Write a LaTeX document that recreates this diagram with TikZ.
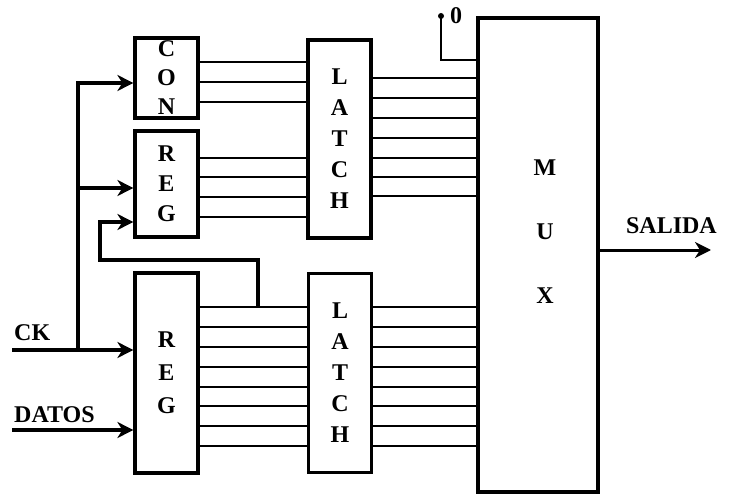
\documentclass[tikz,border=0pt]{standalone}
\usepackage{fontspec}
\setmainfont{Liberation Serif}
\usetikzlibrary{arrows.meta,positioning}

\begin{document}
\begin{tikzpicture}[
    x=1pt, y=-1pt,
    block/.style={draw, line width=3.2pt, minimum width=63pt, inner sep=0pt, align=center,
        font=\bfseries\fontsize{24}{31}\selectfont},
    bus/.style={line width=2.9pt},
    clk/.style={line width=4.2pt},
    inarrow/.style={clk, -{Stealth[length=16pt,width=16pt,inset=5pt]}},
    lbl/.style={font=\bfseries\fontsize{24}{26}\selectfont, inner sep=0pt}
]
\useasboundingbox (0,0) rectangle (751,494);

% Counter and registers
\node[block, minimum height=80pt, font=\bfseries\fontsize{24}{29}\selectfont] (con) at (166.5,78) {C\\O\\N};
\node[block, minimum height=106pt, font=\bfseries\fontsize{24}{30}\selectfont] (regA) at (166.5,184) {R\\E\\G};
\node[block, minimum height=200pt, font=\bfseries\fontsize{24}{33}\selectfont] (regB) at (166.5,373) {R\\E\\G};

% Latches
\node[block, minimum height=198pt] (latchA) at (339.5,139) {L\\A\\T\\C\\H};
\node[block, minimum height=199pt] (latchB) at (340,373) {L\\A\\T\\C\\H};

% Multiplexer
\node[block, minimum width=120pt, minimum height=474pt] (mux) at (538,255) {};
\node[lbl, align=center, font=\bfseries\fontsize{24}{64}\selectfont] (muxtext) at (545,232) {M\\U\\X};

% Inputs and outputs
\coordinate (ck) at (12,350);
\coordinate (datos) at (12,430);
\coordinate (tap) at (78,350);
\coordinate (fb) at (258,307);
\coordinate (zero) at (441,16);
\coordinate (salida) at (711,250);

\node[lbl, anchor=south west, above right=9pt and 2pt of ck] (cklabel) {CK};
\node[lbl, anchor=south west, above right=7pt and 2pt of datos] (datoslabel) {DATOS};
\node[lbl, anchor=south, above left=16pt and -6pt of salida] (salidalabel) {SALIDA};
\node[lbl, anchor=west, right=9pt of zero] (zerolabel) {0};

% Data buses
\foreach \y in {62,82,102}
    \draw[bus] (con.east |- 0,\y) -- (latchA.west |- 0,\y);
\foreach \y in {158,177,197,217}
    \draw[bus] (regA.east |- 0,\y) -- (latchA.west |- 0,\y);
\foreach \y in {78,98,118,138,158,177,196}
    \draw[bus] (latchA.east |- 0,\y) -- (mux.west |- 0,\y);
\foreach \y in {307,327,347,367,387,406,426,446} {
    \draw[bus] (regB.east |- 0,\y) -- (latchB.west |- 0,\y);
    \draw[bus] (latchB.east |- 0,\y) -- (mux.west |- 0,\y);
}

% Constant zero input
\fill (zero) circle (3pt);
\draw[bus] (zero) |- (mux.west |- 0,60);

% Clock and data inputs
\draw[inarrow] (ck) -- (regB.west |- ck);
\draw[inarrow] (datos) -- (regB.west |- datos);
\draw[inarrow] (tap) |- (con.west |- 0,83);
\draw[inarrow] (tap |- 0,188) -- (regA.west |- 0,188);

% Feedback to upper register
\draw[inarrow, line width=3.6pt] (fb) |- (100,260) |- (regA.west |- 0,222);

% Output
\draw[inarrow, line width=3pt] (mux.east |- salida) -- (salida);

\end{tikzpicture}
\end{document}
